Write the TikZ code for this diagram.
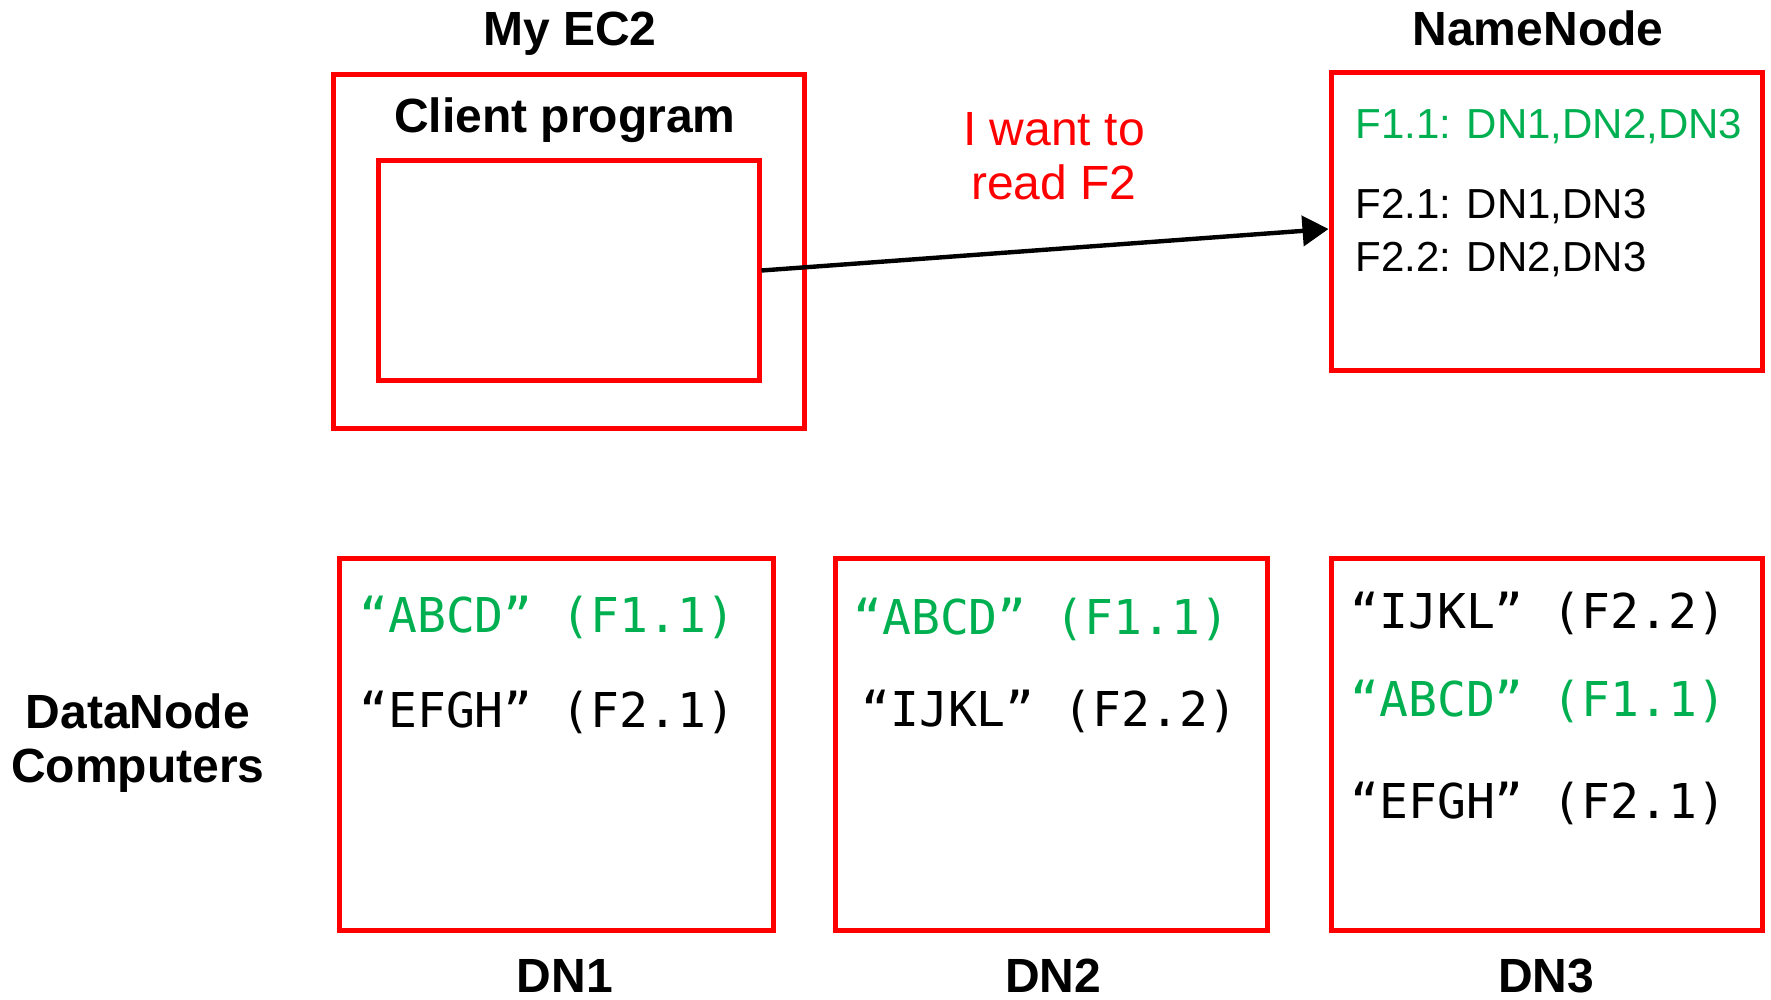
\documentclass[tikz,border=0pt]{standalone}
\usepackage{fontspec}
\setmainfont{Liberation Sans}
\setmonofont{DejaVu Sans Mono}
\definecolor{boxred}{rgb}{1,0,0}
\definecolor{okgreen}{RGB}{0,176,80}
\usetikzlibrary{arrows.meta,positioning}

\begin{document}
\begin{tikzpicture}[x=0.5pt,y=0.5pt,yscale=-1,xscale=1,
	hostbox/.style={draw=boxred,line width=2.5pt,inner sep=0pt},
	title/.style={font=\fontsize{24}{27}\selectfont\bfseries,align=center,inner sep=0pt},
	asklabel/.style={font=\fontsize{24}{27}\selectfont,text=boxred,align=center,inner sep=0pt},
	meta/.style={anchor=base west,font=\fontsize{21}{25}\selectfont,inner sep=0pt},
	block/.style={anchor=base west,font=\fontsize{24}{28}\selectfont\ttfamily,inner sep=0pt},
	hit/.style={text=okgreen}]
	\useasboundingbox (0,0) rectangle (1771,1000);
	
	%Shape: EC2 and client program
	\node [hostbox,minimum width=235.5pt,minimum height=176.5pt] (ec2) at (568.5,251.5) {};
	\node [hostbox,minimum width=190.5pt,minimum height=109.5pt] (client) at (568.5,270.5) {};
	%Shape: NameNode
	\node [hostbox,minimum width=215.5pt,minimum height=148.5pt] (namenode) at (1546.5,221.5) {};
	%Shape: DataNodes
	\node [hostbox,minimum width=217pt,minimum height=186pt] (dn1) at (556,744) {};
	\node [hostbox,minimum width=216pt,minimum height=186pt] (dn2) at (1051,744) {};
	\node [hostbox,minimum width=215.5pt,minimum height=186pt] (dn3) at (1546.5,744) {};
	
	%Straight Lines: read request
	\coordinate (askend) at ([yshift=3.75pt]namenode.west);
	\draw [line width=2.2pt,-{Triangle[length=13pt,width=15pt]}] (client.east) -- (askend);
	
	% Text Node
	\node [title,anchor=base] (ec2label) at (570,46) {My EC2};
	% Text Node
	\node [title,anchor=base] (clientlabel) at (565,133) {Client program};
	% Text Node
	\node [title,anchor=base] (namelabel) at (1538,46) {NameNode};
	% Text Node
	\node [asklabel] (ask) at (1054,156) {I want to\\read F2};
	% Text Node
	\node [title] (dnlabel) at (138,743.5) {DataNode\\Computers};
	% Text Node
	\node [title,anchor=base] (dn1label) at (565,992) {DN1};
	\node [title,anchor=base] (dn2label) at (1053,992) {DN2};
	\node [title,anchor=base] (dn3label) at (1546,992) {DN3};
	
	% Text Node: block map
	\node [meta,hit] (f11) at (1355,139) {F1.1: DN1,DN2,DN3};
	\node [meta] (f21) at (1355,219) {F2.1: DN1,DN3};
	\node [meta] (f22) at (1355,271) {F2.2: DN2,DN3};
	
	% Text Node: blocks on DN1
	\node [block,hit] (dn1a) at (359,632) {“ABCD” (F1.1)};
	\node [block] (dn1b) at (359,727) {“EFGH” (F2.1)};
	% Text Node: blocks on DN2
	\node [block,hit] (dn2a) at (853,634) {“ABCD” (F1.1)};
	\node [block] (dn2b) at (861,726) {“IJKL” (F2.2)};
	% Text Node: blocks on DN3
	\node [block] (dn3a) at (1350,628) {“IJKL” (F2.2)};
	\node [block,hit] (dn3b) at (1350,716) {“ABCD” (F1.1)};
	\node [block] (dn3c) at (1350,818) {“EFGH” (F2.1)};
	
\end{tikzpicture}
\end{document}
